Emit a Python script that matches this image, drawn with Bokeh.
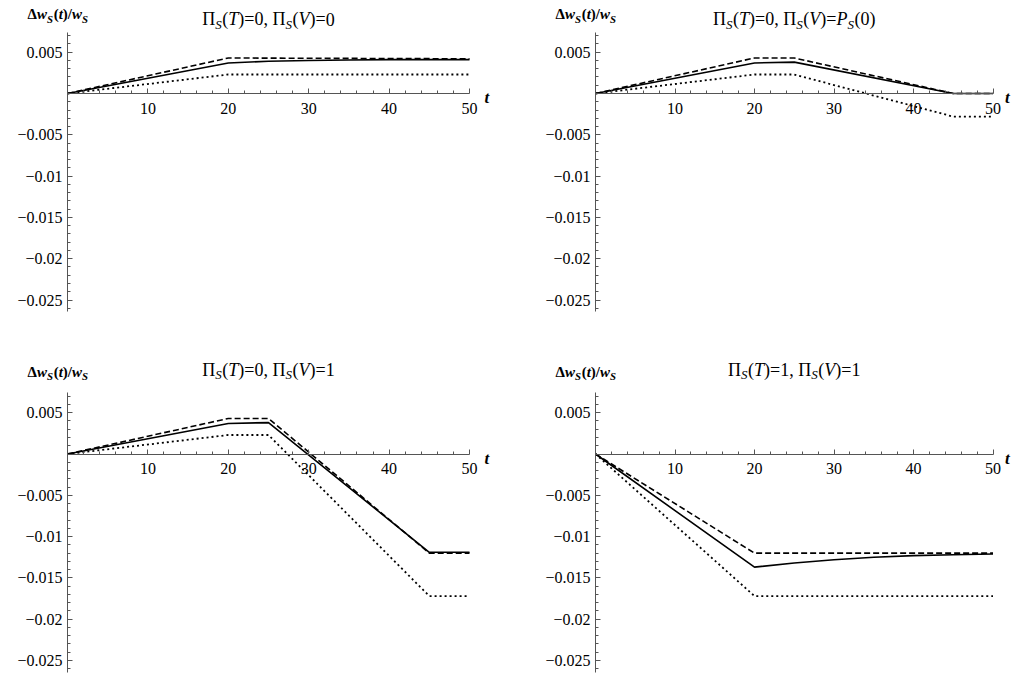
from bokeh.plotting import figure
from bokeh.models import FixedTicker, Label, Range1d, CustomJSTickFormatter
from bokeh.layouts import column, row
from bokeh.embed import file_html
from bokeh.resources import INLINE

# ---------------- data ----------------
x_ticks = [10, 20, 30, 40, 50]
x_tick_labels = ["10", "20", "30", "40", "50"]
x_minor = [2, 4, 6, 8, 12, 14, 16, 18, 22, 24, 26, 28, 32, 34, 36, 38, 42, 44, 46, 48]
y_ticks = [0.005, -0.005, -0.01, -0.015, -0.02, -0.025]
y_tick_labels = ["0.005", "\u22120.005", "\u22120.01", "\u22120.015", "\u22120.02", "\u22120.025"]
y_minor = [0.007, 0.006, 0.004, 0.003, 0.002, 0.001, -0.001, -0.002, -0.003, -0.004,
           -0.006, -0.007, -0.008, -0.009, -0.011, -0.012, -0.013, -0.014,
           -0.016, -0.017, -0.018, -0.019, -0.021, -0.022, -0.023, -0.024, -0.026]

# top-left: Pi_S(T)=0, Pi_S(V)=0
tl_t_solid = [0, 20, 25, 30, 35, 40, 45, 50]
tl_solid = [0, 0.0037, 0.0039, 0.0040, 0.00405, 0.0041, 0.0041, 0.0041]
tl_t = [0, 20, 50]
tl_dashed = [0, 0.0043, 0.0042]
tl_dotted = [0, 0.0023, 0.0023]

# top-right: Pi_S(T)=0, Pi_S(V)=P_S(0)
tr_t = [0, 20, 25, 45, 50]
tr_solid = [0, 0.0037, 0.0038, 0.0, 0.0]
tr_dashed = [0, 0.0043, 0.0043, 0.0, 0.0]
tr_dotted = [0, 0.0023, 0.0023, -0.0028, -0.0028]

# bottom-left: Pi_S(T)=0, Pi_S(V)=1
bl_t = [0, 20, 25, 45, 50]
bl_solid = [0, 0.0037, 0.0038, -0.0119, -0.0119]
bl_dashed = [0, 0.0043, 0.0043, -0.0120, -0.0120]
bl_dotted = [0, 0.0023, 0.0023, -0.0172, -0.0172]

# bottom-right: Pi_S(T)=1, Pi_S(V)=1
br_t_solid = [0, 20, 25, 30, 35, 40, 45, 50]
br_solid = [0, -0.0137, -0.0132, -0.0128, -0.0125, -0.0123, -0.0122, -0.0121]
br_t = [0, 20, 50]
br_dashed = [0, -0.0120, -0.0120]
br_dotted = [0, -0.0172, -0.0172]

# ---------------- text layout helpers ----------------
FONT = "Liberation Serif"
W = {
    "normal": {"0": .5, "1": .5, "(": .333, ")": .333, "=": .564, ",": .25, " ": .25,
               "\u03a0": .72, ".": .25, "/": .278},
    "italic": {"S": .5, "T": .556, "V": .611, "P": .611, "t": .278},
    "bold": {"\u0394": .64, "(": .333, ")": .333, "/": .278},
    "bold italic": {"w": .667, "S": .556, "t": .278},
}
KY = 8260.0  # px per y unit


def piece_w(txt, style, size):
    return sum(W[style].get(c, .5) for c in txt) * size


def compose(p, pieces, x, y, size, anchor="center", x_off=0):
    widths = []
    for txt, style, sub in pieces:
        s = size * 0.72 if sub else size
        widths.append(piece_w(txt, style, s) + (0.6 if sub else 0))
    total = sum(widths)
    cur = -total / 2 if anchor == "center" else 0
    for (txt, style, sub), w in zip(pieces, widths):
        s = size * 0.72 if sub else size
        yy = y - (size * 0.28 / KY if sub else 0)
        p.add_layout(Label(x=x, y=yy, x_offset=x_off + cur,
                           text=txt, text_font=FONT, text_font_style=style,
                           text_font_size=f"{s:.1f}px", text_align="left",
                           text_baseline="alphabetic", text_color="black"))
        cur += w


def title_pieces(tv, vv):
    out = [("\u03a0", "normal", False), ("S", "italic", True), ("(", "normal", False),
           ("T", "italic", False), (")=" + tv + ", \u03a0", "normal", False),
           ("S", "italic", True), ("(", "normal", False), ("V", "italic", False),
           (")=", "normal", False)]
    if vv == "P":
        out += [("P", "italic", False), ("S", "italic", True), ("(0)", "normal", False)]
    else:
        out += [(vv, "normal", False)]
    return out


ylab_pieces = [("\u0394", "bold", False), ("w", "bold italic", False), ("S", "bold italic", True),
               ("(", "bold", False), ("t", "bold italic", False), (")/", "bold", False),
               ("w", "bold italic", False), ("S", "bold italic", True)]

AX = "#555555"
FMT = """
let b = 0;
for (let i = 0; i < tv.length; i++) { if (Math.abs(tv[i] - tick) < Math.abs(tv[b] - tick)) b = i; }
return tl[b];
"""


def panel(fw, fh, x0px, kx, y0px, series, title, title_y, ylab_y, t_off):
    xr = Range1d(-x0px / kx, (fw - x0px) / kx)
    yr = Range1d(-(fh - y0px) / KY, y0px / KY)
    p = figure(frame_width=fw, frame_height=fh, output_backend="svg", toolbar_location=None,
               x_range=xr, y_range=yr, min_border=0, min_border_left=0, min_border_right=0,
               min_border_top=0, min_border_bottom=0)
    p.outline_line_color = None
    p.xgrid.visible = False
    p.ygrid.visible = False
    p.background_fill_color = "white"
    p.border_fill_color = "white"
    xa = p.xaxis[0]
    xa.fixed_location = 0
    xa.bounds = (0, 50)
    xa.ticker = FixedTicker(ticks=x_ticks, minor_ticks=x_minor)
    xa.formatter = CustomJSTickFormatter(args=dict(tv=x_ticks, tl=x_tick_labels), code=FMT)
    xa.major_label_standoff = 9
    ya = p.yaxis[0]
    ya.fixed_location = 0
    ya.bounds = (-0.0264, 0.0074)
    ya.ticker = FixedTicker(ticks=y_ticks, minor_ticks=y_minor)
    ya.formatter = CustomJSTickFormatter(args=dict(tv=y_ticks, tl=y_tick_labels), code=FMT)
    ya.major_label_standoff = 5
    for ax in (xa, ya):
        ax.axis_line_color = AX
        ax.axis_line_width = 1
        ax.major_tick_line_color = AX
        ax.minor_tick_line_color = AX
        ax.major_tick_in = 5
        ax.major_tick_out = 0
        ax.minor_tick_in = 3
        ax.minor_tick_out = 0
        ax.major_label_text_font = FONT
        ax.major_label_text_font_size = "16px"
        ax.major_label_text_color = "black"
    (ts, s), (td, d), (tp, dt) = series
    p.line(ts, s, line_color="black", line_width=1.6)
    p.line(td, d, line_color="black", line_width=1.6, line_dash="6 3")
    p.line(tp, dt, line_color="black", line_width=1.8, line_dash="2 3")
    compose(p, title, 25, title_y, 18, "center")
    compose(p, ylab_pieces, 0, ylab_y, 15, "left", x_off=-40)
    p.add_layout(Label(x=50, y=-4 / KY, x_offset=t_off, text="t", text_font=FONT,
                       text_font_style="bold italic", text_font_size="17px",
                       text_baseline="alphabetic", text_color="black"))
    return p


p1 = panel(528, 361, 67, 8.04, 93, [(tl_t_solid, tl_solid), (tl_t, tl_dashed), (tl_t, tl_dotted)],
           title_pieces("0", "0"), 0.0090, 0.00958, 15)
p2 = panel(489, 361, 67, 7.95, 93, [(tr_t, tr_solid), (tr_t, tr_dashed), (tr_t, tr_dotted)],
           title_pieces("0", "P"), 0.0090, 0.00958, 12)
p3 = panel(528, 316, 67, 8.04, 92.5, [(bl_t, bl_solid), (bl_t, bl_dashed), (bl_t, bl_dotted)],
           title_pieces("0", "1"), 0.0102, 0.00993, 15)
p4 = panel(489, 316, 67, 7.95, 92.5, [(br_t_solid, br_solid), (br_t, br_dashed), (br_t, br_dotted)],
           title_pieces("1", "1"), 0.0102, 0.00993, 12)

layout = column(row(p1, p2), row(p3, p4))
open("out.html", "w").write(file_html(layout, INLINE))
